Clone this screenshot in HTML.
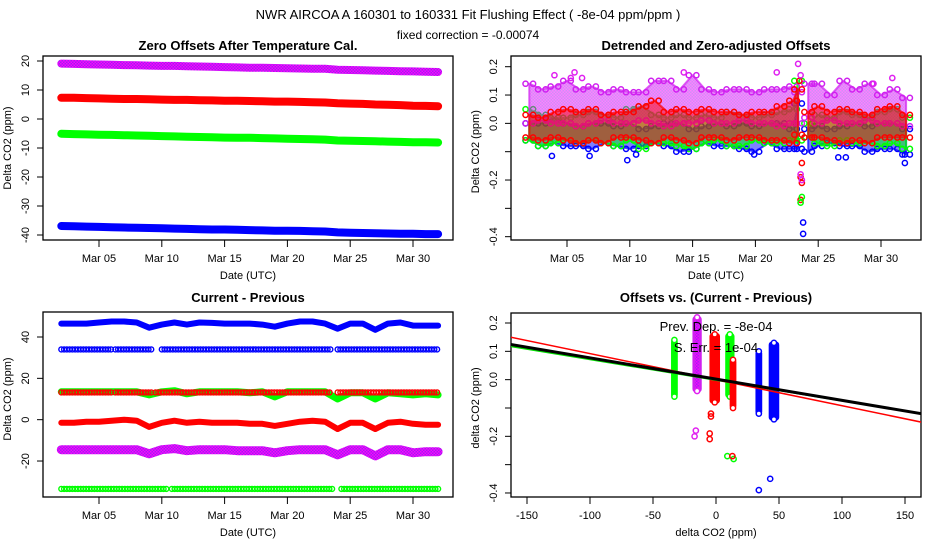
<!DOCTYPE html>
<html><head><meta charset="utf-8"><style>
html,body{margin:0;padding:0;background:#fff;}
svg{display:block;font-family:"Liberation Sans",sans-serif;}
</style></head><body>
<svg id="c" width="936" height="540" viewBox="0 0 936 540" xmlns="http://www.w3.org/2000/svg">
<text x="468" y="19" font-size="13" text-anchor="middle">NWR   AIRCOA A   160301 to 160331   Fit Flushing Effect ( -8e-04 ppm/ppm )</text>
<text x="468" y="39" font-size="12" text-anchor="middle">fixed correction = -0.00074</text>
</svg>
<script>
// ---- data ----
const days = [2,3,4,5,6,7,8,9,10,11,12,13,14,15,16,17,18,19,20,21,22,23,24,25,26,27,28,29,30,31,32];
// Panel 1: zero offsets (ppm)
const p1Purple = [19.1,19.0,18.9,18.8,18.7,18.6,18.5,18.4,18.3,18.3,18.2,18.1,18.0,17.9,17.8,17.7,17.7,17.6,17.5,17.4,17.3,17.3,17.0,16.9,16.8,16.7,16.6,16.5,16.4,16.3,16.2];
const p1Red = [7.3,7.3,7.2,7.1,7.0,6.9,6.9,6.8,6.7,6.6,6.6,6.5,6.4,6.3,6.3,6.2,6.1,6.0,6.0,5.9,5.8,5.7,5.4,5.3,5.2,5.0,4.9,4.8,4.6,4.5,4.4];
const p1Green = [-5.1,-5.2,-5.3,-5.4,-5.5,-5.6,-5.7,-5.8,-5.9,-6.0,-6.1,-6.2,-6.3,-6.4,-6.5,-6.5,-6.6,-6.7,-6.8,-6.9,-7.0,-7.1,-7.4,-7.5,-7.6,-7.7,-7.8,-7.9,-8.0,-8.0,-8.1];
const p1Blue = [-36.9,-37.0,-37.1,-37.2,-37.3,-37.4,-37.5,-37.6,-37.7,-37.8,-37.9,-38.0,-38.1,-38.1,-38.2,-38.3,-38.4,-38.5,-38.5,-38.6,-38.7,-38.8,-39.1,-39.2,-39.3,-39.4,-39.5,-39.6,-39.6,-39.7,-39.7];
// Panel 2: detrended offsets, envelope per day
const p2Days = [2,3,4,5,6,7,8,9,10,11,12,13,14,15,16,17,18,19,20,21,22,23,23.4,24.2,25,26,27,28,29,30,31,32];
const p2GapAfter = 23.4;
const p2PurpleHi = [0.14,0.12,0.13,0.15,0.12,0.13,0.11,0.12,0.11,0.11,0.15,0.15,0.12,0.17,0.12,0.11,0.12,0.12,0.11,0.12,0.12,0.13,0.11,0.14,0.14,0.10,0.15,0.12,0.14,0.10,0.12,0.09];
const p2PurpleLo = [0.0,0.01,0.0,0.0,-0.01,0.0,0.01,0.0,0.0,0.01,0.0,-0.01,0.0,0.0,0.01,0.0,0.0,0.01,0.0,0.0,-0.01,0.0,0.0,0.02,0.0,0.01,0.0,0.0,0.01,0.0,0.0,-0.01];
const p2RedHi = [0.03,0.02,0.04,0.05,0.04,0.05,0.03,0.04,0.04,0.06,0.08,0.04,0.05,0.04,0.05,0.04,0.04,0.03,0.04,0.04,0.06,0.08,0.12,0.04,0.06,0.04,0.05,0.04,0.03,0.05,0.06,0.03];
const p2RedLo = [-0.05,-0.06,-0.05,-0.06,-0.07,-0.06,-0.07,-0.05,-0.05,-0.06,-0.07,-0.05,-0.06,-0.07,-0.05,-0.05,-0.06,-0.05,-0.05,-0.06,-0.06,-0.07,-0.04,-0.05,-0.05,-0.06,-0.07,-0.06,-0.07,-0.05,-0.05,-0.05];
const p2GreenHi = [0.05,0.03,0.02,0.02,0.03,0.04,0.03,0.02,0.05,0.06,0.03,0.02,0.03,0.02,0.03,0.02,0.04,0.03,0.02,0.03,0.04,0.05,0.15,0.0,0.03,0.02,0.04,0.03,0.02,0.04,0.05,0.02];
const p2GreenLo = [-0.06,-0.08,-0.07,-0.06,-0.07,-0.06,-0.07,-0.08,-0.06,-0.09,-0.07,-0.07,-0.08,-0.09,-0.07,-0.06,-0.08,-0.08,-0.06,-0.07,-0.07,-0.06,-0.06,-0.05,-0.07,-0.08,-0.06,-0.07,-0.07,-0.08,-0.07,-0.09];
const p2BlueHi = [0.0,0.0,0.02,0.0,-0.01,0.0,0.0,-0.01,0.0,-0.02,-0.01,0.0,0.0,-0.02,-0.01,0.0,-0.01,0.0,-0.01,0.0,0.0,-0.02,0.07,-0.02,-0.01,-0.02,-0.01,0.0,-0.01,0.0,0.0,-0.02];
const p2BlueLo = [-0.06,-0.08,-0.07,-0.08,-0.08,-0.09,-0.07,-0.08,-0.09,-0.08,-0.07,-0.08,-0.1,-0.09,-0.07,-0.08,-0.08,-0.09,-0.1,-0.07,-0.09,-0.09,-0.09,-0.1,-0.08,-0.07,-0.08,-0.08,-0.1,-0.09,-0.09,-0.11];
const p2OutDay = [3.8,6.8,9.8,10.5,23.8,23.8,31.9,31.9,26.6,27.2,14.7,19.9,23.5,23.7,23.6,23.7,23.6,23.6,23.7,23.6,23.7,23.4,23.6,21.7,5.6,29.4,4.0,5.3,6.2,14.3,30.9];
const p2OutVal = [-0.115,-0.115,-0.13,-0.11,-0.35,-0.39,-0.11,-0.14,-0.12,-0.12,-0.1,-0.11,0.15,-0.14,-0.19,-0.21,-0.27,-0.28,-0.26,-0.18,-0.2,0.21,0.17,0.18,0.18,0.14,0.17,0.16,0.16,0.18,0.16];
const p2OutCol = ['b','b','b','b','b','b','b','b','b','b','b','b','r','r','r','r','r','g','g','p','p','p','p','p','p','p','p','p','p','p','p'];
// Panel 3: current - previous (ppm)
const p3BlueBand = [46.5,46.5,46.5,47,47.5,47.5,47,44.5,46,47,46,47,46.8,46.5,46.5,46.5,46,45,46.5,47.5,47.5,46.5,44,46.5,46.5,43.5,46.5,47,45.5,45.5,45.5];
const p3GreenBand = [13.5,13.5,13.5,13.5,13.5,13.5,13.5,12,13.5,14,12.5,13.5,13.5,13.5,13.5,13,13.5,11,13.5,13.5,13.5,13.5,10,13,13,10,13,12.5,12,12.5,12];
const p3RedBand = [-1.5,-1.5,-1,-1,-0.5,0,-0.5,-3.5,-1.5,-0.5,-1.5,-1,-1.5,-1.5,-1.5,-2,-2,-3,-2,-1,-0.5,-1,-4.5,-1.5,-1.5,-4.5,-1.5,-1,-2,-2.5,-2.5];
const p3PurpleBand = [-14.5,-14.5,-14.5,-14.5,-14.5,-14.5,-14.5,-16.5,-14.5,-14,-15,-14.5,-14.5,-14.5,-15,-15,-15,-16,-15,-14.5,-14.5,-14.5,-17,-14.5,-14.5,-17.5,-14.5,-14.5,-16,-15.5,-15.5];
const p3CircleLevels = [34, 13.2, -33.5];
const p3CircleSegStart = [[2,6.3,10,24],[2,6.3,9.5,24],[2,10.8,24.3]];
const p3CircleSegEnd = [[6,9.2,23.5,32],[6,9.2,23.5,32],[10.5,23.7,32]];
// Panel 4: offsets vs delta CO2
const p4ClusterX = [-33,-15,-1,11,13.5,34,46];
const p4ClusterW = [3,5,6,5,3,3,6];
const p4ClusterLo = [-0.06,-0.04,-0.08,-0.06,-0.1,-0.12,-0.14];
const p4ClusterHi = [0.14,0.22,0.16,0.16,0.07,0.1,0.13];
const p4ClusterCol = ['g','p','r','g','r','b','b'];
const p4OutX = [-17,-16,-4,-4,-5,-5,9,14,13,34,43];
const p4OutY = [-0.2,-0.18,-0.13,-0.12,-0.19,-0.21,-0.27,-0.28,-0.27,-0.39,-0.35];
const p4OutCol = ['p','p','r','r','r','r','g','g','r','b','b'];
const p4Slopes = [-0.00073,-0.00092,-0.00075];
const p4Intercepts = [-0.001,0.0,0.002];

// ---- drawing ----
const NS='http://www.w3.org/2000/svg';
const svg=document.getElementById('c');
const COL={b:'#0000ff',r:'#ff0000',g:'#00ff00',p:'#a020f0'};
function mk(tag,attrs,parent){const e=document.createElementNS(NS,tag);for(const k in attrs)e.setAttribute(k,attrs[k]);(parent||svg).appendChild(e);return e;}
const defs=mk('defs',{});
const pat=mk('pattern',{id:'pp',width:'3',height:'3',patternUnits:'userSpaceOnUse'},defs);
mk('rect',{width:'3',height:'3',fill:'#a020f0'},pat);
mk('rect',{width:'1.5',height:'1.5',fill:'#ff00ff'},pat);
mk('rect',{x:'1.5',y:'1.5',width:'1.5',height:'1.5',fill:'#ff00ff'},pat);
function fillOf(c){return c==='p'?'url(#pp)':COL[c];}
function edgeOf(c){return c==='p'?'#d020f0':COL[c];}

function panel(ox,oy,name){const g=mk('g',{transform:`translate(${ox},${oy})`});return g;}
function frame(g,top,bottom,title,titleY){
  const r=mk('rect',{x:43,y:top,width:410,height:bottom-top,fill:'none',stroke:'#000','stroke-width':1.3},g);
  
  const t=mk('text',{x:248,y:titleY,'font-size':13,'font-weight':'bold','text-anchor':'middle'},g);t.textContent=title;
  
}
function yAxis(g,ticks,labels,fy,title){
  const ys=ticks.map(fy);
  mk('line',{x1:43,x2:43,y1:Math.min(...ys),y2:Math.max(...ys),stroke:'#000'},g);
  ticks.forEach((v,i)=>{const y=fy(v);mk('line',{x1:37,x2:43,y1:y,y2:y,stroke:'#000'},g);
    if(labels[i]!==''){const t=mk('text',{x:0,y:0,'font-size':11,'text-anchor':'middle',transform:`translate(29,${y}) rotate(-90)`},g);t.textContent=labels[i];
    }});
  const mid=(Math.min(...ys)+Math.max(...ys))/2;
  const t=mk('text',{x:0,y:0,'font-size':11,'text-anchor':'middle',transform:`translate(11,${mid}) rotate(-90)`},g);t.textContent=title;
  
}
function xAxis(g,ticks,labels,fx,bottom,title){
  ticks.forEach((v,i)=>{const x=fx(v);mk('line',{x1:x,x2:x,y1:bottom,y2:bottom+7,stroke:'#000'},g);
    const t=mk('text',{x:x,y:bottom+22,'font-size':11,'text-anchor':'middle'},g);t.textContent=labels[i];
    });
  const t=mk('text',{x:248,y:bottom+39,'font-size':11,'text-anchor':'middle'},g);t.textContent=title;
  
}
const fxDate=d=>99+(d-5)*12.56;
const dateTicks=[5,10,15,20,25,30], dateLabels=['Mar 05','Mar 10','Mar 15','Mar 20','Mar 25','Mar 30'];
function band(g,xs,vals,fx,fy,c,w,name){
  const pts=xs.map((d,i)=>fx(d).toFixed(1)+','+fy(vals[i]).toFixed(1)).join(' ');
  const pl=mk('polyline',{points:pts,fill:'none',stroke:fillOf(c),'stroke-width':w,'stroke-linejoin':'round','stroke-linecap':'round'},g);
  
}

// Panel 1
{
  const g=panel(0,0,'panel-zero-offsets');
  const fy=v=>61+(20-v)*2.9;
  frame(g,56,240,'Zero Offsets After Temperature Cal.',50);
  yAxis(g,[20,10,0,-10,-20,-30,-40],['20','10','0','-10','-20','-30','-40'],fy,'Delta CO2 (ppm)');
  xAxis(g,dateTicks,dateLabels,fxDate,240,'Date (UTC)');
  band(g,days,p1Purple,fxDate,fy,'p',8,'series-purple');
  band(g,days,p1Red,fxDate,fy,'r',8,'series-red');
  band(g,days,p1Green,fxDate,fy,'g',8,'series-green');
  band(g,days,p1Blue,fxDate,fy,'b',8,'series-blue');
}
// Panel 2
{
  const g=panel(468,0,'panel-detrended-offsets');
  const fy=v=>66.7+(0.2-v)*283.3;
  frame(g,56,240,'Detrended and Zero-adjusted Offsets',50);
  yAxis(g,[0.2,0.1,0,-0.1,-0.2,-0.3,-0.4],['0.2','0.1','0.0','','-0.2','','-0.4'],fy,'Delta CO2 (ppm)');
  xAxis(g,dateTicks,dateLabels,fxDate,240,'Date (UTC)');
  const sets=[['b',p2BlueHi,p2BlueLo],['g',p2GreenHi,p2GreenLo],['p',p2PurpleHi,p2PurpleLo],['r',p2RedHi,p2RedLo]];
  sets.forEach(([c,hi,lo])=>{
    const segs=[[]];
    p2Days.forEach((d,i)=>{if(i>0&&p2Days[i-1]===p2GapAfter)segs.push([]);segs[segs.length-1].push(i);});
    segs.forEach(idx=>{
      let dstr='';
      idx.forEach((i,k)=>{dstr+=(k===0?'M':'L')+fxDate(p2Days[i]).toFixed(1)+' '+fy(hi[i]).toFixed(1)+' ';});
      idx.slice().reverse().forEach(i=>{dstr+='L'+fxDate(p2Days[i]).toFixed(1)+' '+fy(lo[i]).toFixed(1)+' ';});
      dstr+='Z';
      const pg=mk('path',{d:dstr,fill:fillOf(c),'fill-opacity':0.5,stroke:edgeOf(c),'stroke-width':2,'stroke-opacity':0.7,'stroke-linejoin':'round'},g);
      
    });
    p2Days.forEach((d,i)=>{
      [-0.3,0.3].forEach(off=>{
        [hi[i],lo[i]].forEach(v=>{
          const ci=mk('circle',{cx:fxDate(d+off),cy:fy(v),r:2.6,fill:'none',stroke:edgeOf(c),'stroke-width':1.5},g);
          
        });
      });
    });
  });
  p2OutDay.forEach((d,i)=>{const c=p2OutCol[i];
    const ci=mk('circle',{cx:fxDate(d),cy:fy(p2OutVal[i]),r:2.6,fill:'none',stroke:c==='p'?'#e020f0':COL[c],'stroke-width':1.5},g);
    });
}
// Panel 3
{
  const g=panel(0,280,'panel-current-minus-previous');
  const fy=v=>57+(40-v)*2.067;
  frame(g,32,217,'Current - Previous',22);
  yAxis(g,[40,20,0,-20],['40','20','0','-20'],fy,'Delta CO2 (ppm)');
  xAxis(g,dateTicks,dateLabels,fxDate,217,'Date (UTC)');
  band(g,days,p3BlueBand,fxDate,fy,'b',6,'series-blue-band');
  band(g,days,p3GreenBand,fxDate,fy,'g',7,'series-green-band');
  band(g,days,p3RedBand,fxDate,fy,'r',6,'series-red-band');
  band(g,days,p3PurpleBand,fxDate,fy,'p',9,'series-purple-band');
  const cc=['b','r','g'];
  p3CircleLevels.forEach((lev,k)=>{
    p3CircleSegStart[k].forEach((s,j)=>{
      for(let d=s;d<=p3CircleSegEnd[k][j];d+=0.22){
        const ci=mk('circle',{cx:fxDate(d),cy:fy(lev),r:2.5,fill:'none',stroke:COL[cc[k]],'stroke-width':1.4},g);
        
      }
    });
  });
}
// Panel 4
{
  const g=panel(468,280,'panel-offsets-vs-delta');
  const fx=v=>59+(v+150)*1.26;
  const fy=v=>43+(0.2-v)*283.3;
  frame(g,33,217,'Offsets vs. (Current - Previous)',22);
  yAxis(g,[0.2,0.1,0,-0.1,-0.2,-0.3,-0.4],['0.2','0.1','0.0','','-0.2','','-0.4'],fy,'delta CO2 (ppm)');
  xAxis(g,[-150,-100,-50,0,50,100,150],['-150','-100','-50','0','50','100','150'],fx,217,'delta CO2 (ppm)');
  p4ClusterX.forEach((x,i)=>{const c=p4ClusterCol[i];
    const r=mk('rect',{x:fx(x-p4ClusterW[i]/2),y:fy(p4ClusterHi[i]),width:p4ClusterW[i]*1.26,height:fy(p4ClusterLo[i])-fy(p4ClusterHi[i]),fill:fillOf(c),stroke:edgeOf(c),'stroke-width':3,rx:2},g);
    
    [p4ClusterHi[i],p4ClusterLo[i]].forEach(v=>{const ci=mk('circle',{cx:fx(x),cy:fy(v),r:2.6,fill:'#fff',stroke:c==='p'?'#e020f0':COL[c],'stroke-width':1.5},g);
      });
  });
  p4OutX.forEach((x,i)=>{const c=p4OutCol[i];
    const ci=mk('circle',{cx:fx(x),cy:fy(p4OutY[i]),r:2.6,fill:'none',stroke:c==='p'?'#e020f0':COL[c],'stroke-width':1.5},g);
    });
  const lc=['#00dd00','#ff0000','#000000'], lw=[2,1.5,3];
  const cp=mk('clipPath',{id:'cp4'},defs);mk('rect',{x:43,y:33,width:410,height:184},cp);
  p4Slopes.forEach((s,i)=>{
    const l=mk('line',{x1:fx(-170),y1:fy(p4Intercepts[i]+s*-170),x2:fx(170),y2:fy(p4Intercepts[i]+s*170),stroke:lc[i],'stroke-width':lw[i],'clip-path':'url(#cp4)'},g);
    
  });
  const t1=mk('text',{x:248,y:51,'font-size':13,'text-anchor':'middle'},g);t1.textContent='Prev. Dep. =  -8e-04';
  
  const t2=mk('text',{x:248,y:72,'font-size':13,'text-anchor':'middle'},g);t2.textContent='S. Err. =  1e-04';
  
}
</script>
</body></html>
